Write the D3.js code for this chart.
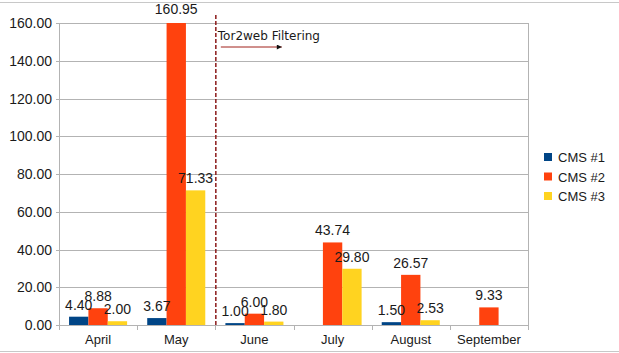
<!DOCTYPE html>
<html>
<head>
<meta charset="utf-8">
<script src="https://cdn.jsdelivr.net/npm/d3@7/dist/d3.min.js"></script>
<style>
  body { margin: 0; background: #fff; }
  svg { display: block; }
  text { font-family: "Liberation Sans", Arial, sans-serif; fill: #1a1a1a; }
</style>
</head>
<body>
<div class="content"></div>
<script>
const SVG_W = 619
const SVG_H = 353

// chart values
const months = ["April", "May", "June", "July", "August", "September"];
const seriesNames = ["CMS #1", "CMS #2", "CMS #3"];
const cms1 = [4.40, 3.67, 1.00, null, 1.50, null];
const cms2 = [8.88, 160.95, 6.00, 43.74, 26.57, 9.33];
const cms3 = [2.00, 71.33, 1.80, 29.80, 2.53, null];
const yTicks = [0, 20, 40, 60, 80, 100, 120, 140, 160];
const colors = ["#004586", "#ff420e", "#ffd320"];
const markerAfter = "May";
const markerLabel = "Tor2web Filtering";

const margin = {left: 59, right: 91, top: 23, bottom: 28};
const plotW = SVG_W - margin.left - margin.right;
const plotH = SVG_H - margin.top - margin.bottom;

const svg = d3.select(".content").append("svg").attr("width", SVG_W).attr("height", SVG_H);

// outer frame lines
svg.append("line").attr("x1", 0).attr("x2", SVG_W).attr("y1", 2.5).attr("y2", 2.5).style("stroke", "#c8c8c8");
svg.append("line").attr("x1", 0).attr("x2", SVG_W).attr("y1", 351.5).attr("y2", 351.5).style("stroke", "#c8c8c8");

const g = svg.append("g").attr("transform", `translate(${margin.left},${margin.top})`);

let xscale = d3.scaleBand().domain(months).range([0, plotW]);
let yscale = d3.scaleLinear().domain([0, 160]).range([plotH, 0]);
let inner = d3.scaleBand().domain(seriesNames).range([0, xscale.bandwidth()]).paddingOuter(0.52).paddingInner(0);

// gridlines
g.append("g").selectAll("line").data(yTicks).join("line")
  .attr("x1", -3).attr("x2", plotW)
  .attr("y1", d => Math.round(yscale(d)) + 0.5).attr("y2", d => Math.round(yscale(d)) + 0.5)
  .style("stroke", "#b3b3b3");

// y axis labels
g.append("g").selectAll("text").data(yTicks).join("text")
  .attr("x", -7).attr("y", d => yscale(d) + 5)
  .attr("text-anchor", "end")
  .style("font-size", "14px")
  .text(d => d3.format(".2f")(d));

// plot frame (left + right verticals)
g.append("line").attr("x1", 0.5).attr("x2", 0.5).attr("y1", 0).attr("y2", plotH).style("stroke", "#b3b3b3");
g.append("line").attr("x1", plotW + 0.5).attr("x2", plotW + 0.5).attr("y1", 0).attr("y2", plotH).style("stroke", "#b3b3b3");

// x axis category ticks
const xaxis = d3.axisBottom(xscale).tickSize(0).tickPadding(10);
const xg = g.append("g").attr("transform", `translate(0,${plotH})`).call(xaxis);
xg.select(".domain").remove();
xg.selectAll("text").style("font-size", "13px").style("font-family", "'Liberation Sans', Arial, sans-serif").attr("fill", "#1a1a1a");
const bounds = months.map(m => xscale(m)).concat([plotW]);
g.append("g").selectAll("line").data(bounds).join("line")
  .attr("x1", d => Math.round(d) + 0.5).attr("x2", d => Math.round(d) + 0.5)
  .attr("y1", plotH).attr("y2", plotH + 5)
  .style("stroke", "#b3b3b3");

// bars
const seriesData = [cms1, cms2, cms3];
let barData = [];
seriesData.forEach((vals, si) => {
  vals.forEach((v, mi) => {
    if (v !== null) barData.push({month: months[mi], series: seriesNames[si], value: v, color: colors[si]});
  });
});

g.append("g").selectAll("rect").data(barData).join("rect")
  .attr("x", d => xscale(d.month) + inner(d.series))
  .attr("width", inner.bandwidth())
  .attr("y", d => yscale(Math.min(d.value, 160)))
  .attr("height", d => plotH - yscale(Math.min(d.value, 160)))
  .attr("fill", d => d.color);

// value labels
g.append("g").selectAll("text").data(barData).join("text")
  .attr("x", d => xscale(d.month) + inner(d.series) + inner.bandwidth() / 2)
  .attr("y", d => yscale(d.value) - 7)
  .attr("text-anchor", "middle")
  .style("font-size", "14px")
  .text(d => d3.format(".2f")(d.value));

// filtering marker
const mx = xscale(markerAfter) + xscale.bandwidth() + 0.5;
g.append("line")
  .attr("x1", mx).attr("x2", mx).attr("y1", -8).attr("y2", plotH + 1)
  .style("stroke", "#8b1a1a").style("stroke-width", 1.5).style("stroke-dasharray", "4,2");
g.append("text")
  .attr("x", mx + 2).attr("y", 17)
  .style("font-family", "'DejaVu Sans', sans-serif").style("font-size", "12px")
  .text(markerLabel);
svg.append("defs").append("marker")
  .attr("id", "arrow").attr("viewBox", "0 0 10 10").attr("refX", 10).attr("refY", 5)
  .attr("markerWidth", 8).attr("markerHeight", 5).attr("markerUnits", "userSpaceOnUse").attr("orient", "auto")
  .append("path").attr("d", "M0,0L10,5L0,10z").attr("fill", "#111");
g.append("line")
  .attr("x1", mx + 5).attr("x2", mx + 66).attr("y1", 24).attr("y2", 24)
  .style("stroke", "#a0201a").style("stroke-width", 1)
  .attr("marker-end", "url(#arrow)");

// legend
const legend = svg.append("g").attr("transform", "translate(544,157)");
legend.selectAll("rect").data(seriesNames).join("rect")
  .attr("x", 0).attr("y", (d, i) => i * 19.5 - 4)
  .attr("width", 8).attr("height", 8)
  .attr("fill", (d, i) => colors[i]);
legend.selectAll("text").data(seriesNames).join("text")
  .attr("x", 14).attr("y", (d, i) => i * 19.5 + 5)
  .style("font-size", "13px")
  .text(d => d);
</script>
</body>
</html>
